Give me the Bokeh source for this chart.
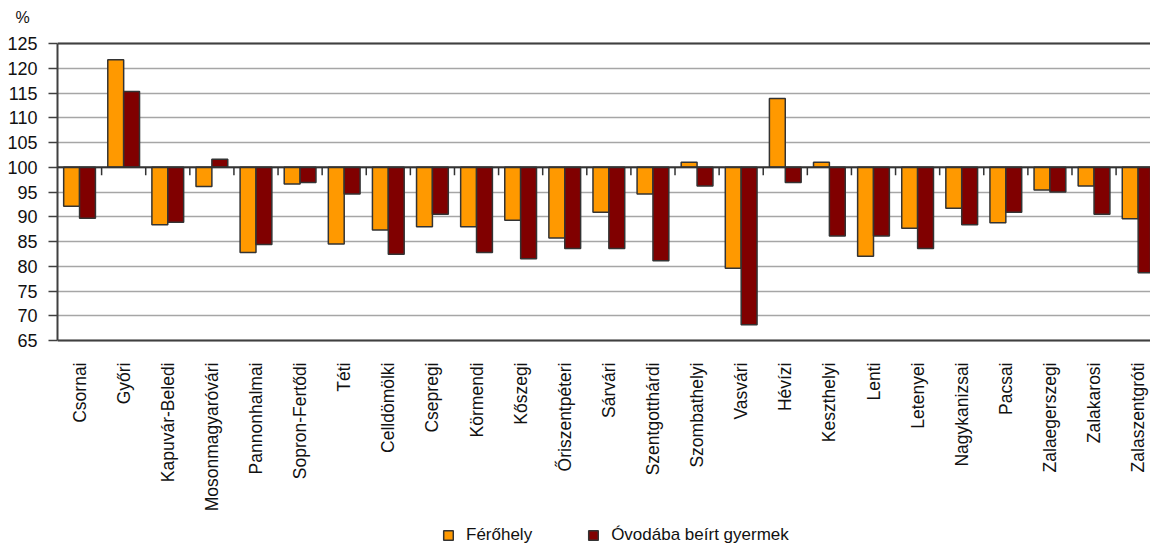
import math
from bokeh.plotting import figure
from bokeh.models import (ColumnDataSource, Range1d, FixedTicker,
                          Legend, LegendItem, Title, Span)
from bokeh.transform import dodge
from bokeh.core.properties import value
from bokeh.embed import file_html
from bokeh.resources import INLINE

categories = ["Csornai", "Győri", "Kapuvár-Beledi", "Mosonmagyaróvári", "Pannonhalmai",
              "Sopron-Fertődi", "Téti", "Celldömölki", "Csepregi", "Körmendi", "Kőszegi",
              "Őriszentpéteri", "Sárvári", "Szentgotthárdi", "Szombathelyi", "Vasvári",
              "Hévízi", "Keszthelyi", "Lenti", "Letenyei", "Nagykanizsai", "Pacsai",
              "Zalaegerszegi", "Zalakarosi", "Zalaszentgróti"]
ferohely = [92.1, 121.7, 88.4, 96.1, 82.8, 96.6, 84.5, 87.3, 88.0, 88.0, 89.3, 85.7, 90.9,
            94.6, 101.0, 79.6, 113.9, 101.0, 82.0, 87.7, 91.7, 88.8, 95.4, 96.2, 89.6]
ovoda = [89.7, 115.3, 88.9, 101.6, 84.4, 96.9, 94.6, 82.4, 90.5, 82.8, 81.5, 83.6, 83.6,
         81.1, 96.2, 68.2, 96.9, 86.1, 86.1, 83.6, 88.4, 90.9, 95.0, 90.5, 78.7]
y_ticks = [65, 70, 75, 80, 85, 90, 95, 100, 105, 110, 115, 120, 125]
series_names = ["Férőhely", "Óvodába beírt gyermek"]
BASE = 100

FONT = "Liberation Sans"
ORANGE = "#FF9900"
DARKRED = "#800000"
OUTLINE = "#333333"

# layout in pixels
FIG_W, FIG_H = 1150, 548
TOP = 30            # frame top
AXIS_TOP = 43       # pixel row of the 125 line
AXIS_BOTTOM = 340   # pixel row of the 65 line
ppu = (AXIS_BOTTOM - AXIS_TOP) / (y_ticks[-1] - y_ticks[0])
y_start = y_ticks[0] - (FIG_H - AXIS_BOTTOM) / ppu
y_end = y_ticks[-1] + (AXIS_TOP - TOP) / ppu

xs = list(range(len(categories)))
src = ColumnDataSource(dict(x=xs, f=ferohely, o=ovoda, base=[BASE] * len(xs)))

p = figure(width=FIG_W, height=FIG_H, output_backend="svg", toolbar_location=None,
           x_range=Range1d(-0.5, 24.28), y_range=Range1d(y_start, y_end),
           min_border_left=57, min_border_right=0, min_border_top=TOP, min_border_bottom=0)
p.outline_line_color = None
p.background_fill_color = "white"
p.xaxis.visible = False

# grid
p.xgrid.visible = False
p.ygrid.ticker = FixedTicker(ticks=y_ticks)
p.ygrid.grid_line_color = "#A6A6A6"
p.ygrid.grid_line_width = 1.5

# bars
r1 = p.vbar(x=dodge("x", -0.18, range=p.x_range), width=0.36, bottom="base", top="f",
            source=src, fill_color=ORANGE, line_color=OUTLINE, line_width=1.5)
r2 = p.vbar(x=dodge("x", 0.18, range=p.x_range), width=0.36, bottom="base", top="o",
            source=src, fill_color=DARKRED, line_color=OUTLINE, line_width=1.5)

# border lines at top/bottom of the value scale, baseline at 100
p.add_layout(Span(location=y_ticks[-1], dimension="width", line_color="#404040", line_width=2))
p.add_layout(Span(location=y_ticks[0], dimension="width", line_color="#404040", line_width=2))
p.add_layout(Span(location=BASE, dimension="width", line_color=OUTLINE, line_width=2))
bounds = [i + 0.5 for i in xs]
p.segment(x0=bounds, x1=bounds, y0=[BASE] * len(bounds),
          y1=[BASE - 8 / ppu] * len(bounds), line_color=OUTLINE, line_width=1.5)

# y axis
ya = p.yaxis[0]
ya.bounds = (y_ticks[0], y_ticks[-1])
ya.ticker = FixedTicker(ticks=y_ticks)
ya.axis_line_color = "#404040"
ya.axis_line_width = 2
ya.major_tick_line_color = "#404040"
ya.major_tick_line_width = 1.5
ya.major_tick_out = 9
ya.major_tick_in = 0
ya.minor_tick_line_color = None
ya.major_label_standoff = 11
ya.major_label_text_font = FONT
ya.major_label_text_font_size = "18px"
ya.major_label_text_color = "#111111"

# category labels (vertical, below the scale)
label_y = y_ticks[0] - 22 / ppu
p.text(x=xs, y=[label_y] * len(xs), text=categories, angle=math.pi / 2,
       text_align="right", text_baseline="middle", text_font=value(FONT),
       text_font_size="17.5px", text_color="#111111")

# "%" unit label
p.add_layout(Title(text="%", align="left", offset=-42, standoff=10,
                   text_font=FONT, text_font_size="16px", text_font_style="normal",
                   text_color="#111111"), "above")

legend = Legend(items=[LegendItem(label=series_names[0], renderers=[r1]),
                       LegendItem(label=series_names[1], renderers=[r2])],
                orientation="horizontal", location=(385, 3),
                glyph_width=12, glyph_height=12, label_standoff=12, spacing=55,
                padding=0, margin=0, border_line_color=None, background_fill_alpha=0,
                label_text_font=FONT, label_text_font_size="17px", label_text_color="#111111",
                label_height=16)
p.add_layout(legend, "center")

open("out.html", "w").write(file_html(p, INLINE))
